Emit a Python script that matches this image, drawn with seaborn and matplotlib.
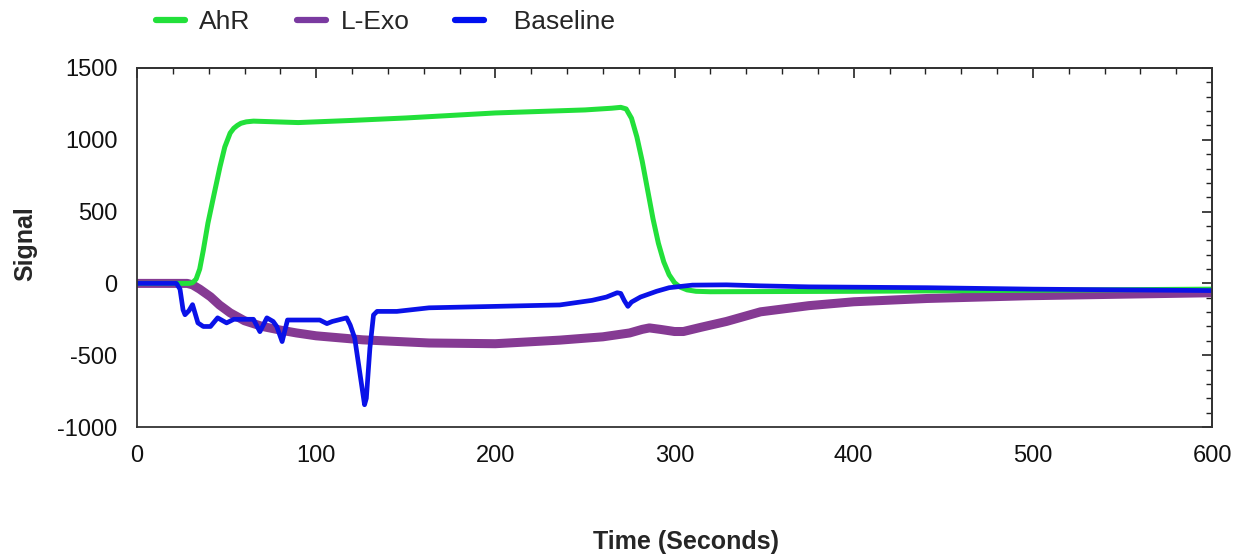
import numpy as np
import pandas as pd
import matplotlib
matplotlib.use("Agg")
import matplotlib.pyplot as plt
import seaborn as sns
from matplotlib.ticker import MultipleLocator

# ---- data ----
ahr_t = [0, 20, 29, 31, 33, 35, 37, 39.6, 43, 46.3, 49, 52, 54, 56, 58, 61, 65, 70, 90,
         120, 150, 200, 250, 265, 270, 273, 276, 279, 282, 285, 288, 291, 294, 297, 300,
         303, 307, 312, 320, 400, 500, 600]
ahr_v = [0, 0, 0, 5, 30, 100, 230, 420, 620, 811, 950, 1047, 1080, 1100, 1115, 1125,
         1130, 1128, 1120, 1135, 1152, 1187, 1208, 1220, 1226, 1215, 1150, 1020, 850, 650,
         450, 280, 150, 60, 5, -25, -45, -55, -58, -55, -48, -40]

lexo_t = [0, 28, 31, 35, 41, 46, 52, 60, 70, 80, 89, 100, 126, 163, 200, 236, 260,
          275, 282, 286, 292, 300, 305, 315, 329, 348, 375, 400, 441, 497, 550, 600]
lexo_v = [0, 0, -10, -40, -93, -150, -205, -260, -300, -325, -345, -365, -393, -415,
          -420, -395, -372, -345, -320, -310, -320, -335, -335, -305, -265, -198, -155,
          -128, -105, -86, -75, -65]

base_t = [0, 22, 24, 25.7, 26.8, 29, 31, 34, 37, 41, 45, 50, 54, 65, 68.6, 72.5, 76,
          78, 81, 84, 95, 102, 106, 109, 117, 119, 121.5, 127, 128, 130, 132, 134, 145,
          163, 200, 236, 254, 262, 268, 270, 272, 274, 276, 281, 290, 297, 310, 329,
          348, 375, 441, 500, 600]
base_v = [0, 0, -40, -184, -218, -190, -148, -275, -300, -300, -240, -275, -250, -250,
          -336, -240, -265, -300, -405, -255, -255, -255, -280, -265, -240, -290, -380,
          -845, -800, -450, -220, -195, -195, -170, -160, -150, -118, -95, -65, -70,
          -120, -160, -130, -95, -55, -30, -12, -10, -17, -24, -30, -40, -50]

series_names = ["AhR", "L-Exo", "Baseline"]
legend_labels = ["AhR", "L-Exo", "  Baseline"]
colors = {"AhR": "#22e03a", "L-Exo": "#853a93", "Baseline": "#0a12e8"}
legend_colors = {"AhR": "#22e03a", "L-Exo": "#7a3aa0", "Baseline": "#0010f0"}
widths = {"AhR": 3.6, "L-Exo": 6.5, "Baseline": 3.4}

x_ticks = [0, 100, 200, 300, 400, 500, 600]
y_ticks = [-1000, -500, 0, 500, 1000, 1500]

df = pd.concat([
    pd.DataFrame({"Time": ahr_t, "Signal": ahr_v, "Series": "AhR"}),
    pd.DataFrame({"Time": lexo_t, "Signal": lexo_v, "Series": "L-Exo"}),
    pd.DataFrame({"Time": base_t, "Signal": base_v, "Series": "Baseline"}),
])

sns.set_theme(style="white")
plt.rcParams["font.family"] = ["Liberation Sans", "DejaVu Sans"]
plt.rcParams["axes.unicode_minus"] = False

fig = plt.figure(figsize=(12.42, 5.58), dpi=100)
ax = fig.add_axes([137 / 1242, 1 - 427 / 558, (1212 - 137) / 1242, (427 - 68) / 558])

for name in ["L-Exo", "AhR", "Baseline"]:
    sub = df[df["Series"] == name]
    sns.lineplot(data=sub, x="Time", y="Signal", ax=ax, color=colors[name],
                 linewidth=widths[name], legend=False, sort=False,
                 solid_joinstyle="round", solid_capstyle="round")

ax.set_xlim(0, 600)
ax.set_ylim(-1000, 1500)
ax.set_xticks(x_ticks)
ax.set_yticks(y_ticks)
ax.xaxis.set_minor_locator(MultipleLocator(20))
ax.yaxis.set_minor_locator(MultipleLocator(100))
ax.tick_params(axis="both", which="major", labelsize=17, colors="#222222",
               length=10, width=1.2, direction="inout", top=False, right=False,
               labelcolor="#111111")
ax.tick_params(axis="both", which="minor", length=6, width=1.0, direction="inout",
               top=False, right=False, colors="#222222")
ax.tick_params(axis="x", which="major", pad=8)
ax.tick_params(axis="y", which="major", pad=9)
for s in ax.spines.values():
    s.set_color("#333333")
    s.set_linewidth(1.3)

# inward ticks on top and right sides
top = ax.secondary_xaxis("top")
top.set_xticks(x_ticks)
top.xaxis.set_minor_locator(MultipleLocator(20))
top.tick_params(which="major", direction="in", length=7, width=1.2, labeltop=False,
                colors="#222222")
top.tick_params(which="minor", direction="in", length=4, width=1.0, colors="#222222")
right = ax.secondary_yaxis("right")
right.set_yticks(y_ticks)
right.yaxis.set_minor_locator(MultipleLocator(100))
right.tick_params(which="major", direction="in", length=7, width=1.2, labelright=False,
                  colors="#222222")
right.tick_params(which="minor", direction="in", length=4, width=1.0, colors="#222222")
for sec in (top, right):
    for s in sec.spines.values():
        s.set_color("#333333")
        s.set_linewidth(1.3)

ax.set_xlabel("Time (Seconds)", fontsize=18, fontweight="bold")
ax.xaxis.set_label_coords((686 - 137) / (1212 - 137), -(530 - 427) / (427 - 68))
ax.set_ylabel("Signal", fontsize=18, fontweight="bold")
ax.yaxis.set_label_coords(-(137 - 37) / (1212 - 137), 0.51)

handles = [plt.Line2D([], [], color=legend_colors[n], linewidth=4.5) for n in series_names]
fig.legend(handles, legend_labels, loc="upper left", bbox_to_anchor=(132 / 1242, 1.025),
           ncol=3, frameon=False, fontsize=19, handlelength=1.1, handletextpad=0.55,
           columnspacing=1.75)

fig.savefig("out.png", dpi=100)
